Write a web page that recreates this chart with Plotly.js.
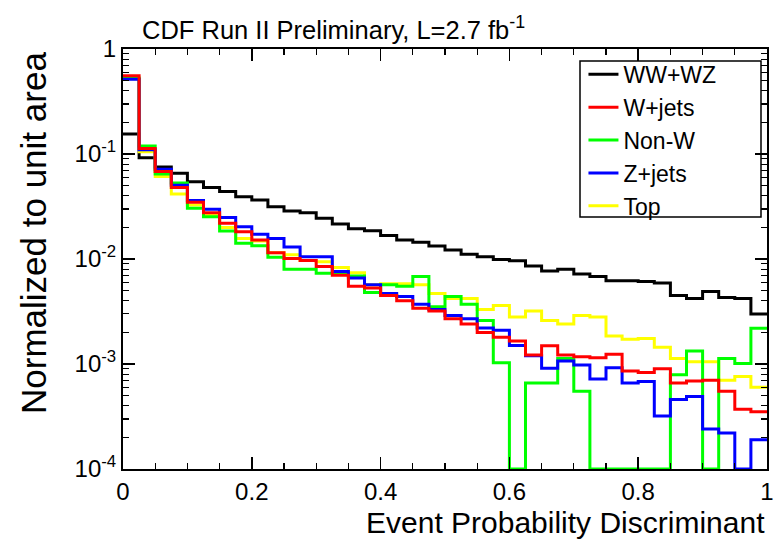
<!DOCTYPE html>
<html>
<head>
<meta charset="utf-8">
<script src="https://cdn.plot.ly/plotly-3.0.1.min.js"></script>
<style>html,body{margin:0;padding:0;background:#fff;}#chart{width:784px;height:546px;}</style>
</head>
<body>
<div id="chart"></div>
<script>
// 40 bins of the event probability discriminant, 0..1
const nBins = 40;
const xMin = 0, xMax = 1;

const seriesNames = ["WW+WZ", "W+jets", "Non-W", "Z+jets", "Top"];

const wwwz = [0.155, 0.092, 0.075, 0.0655, 0.0545, 0.048, 0.044, 0.0392, 0.0365, 0.0315,
              0.0286, 0.0275, 0.0244, 0.0216, 0.0194, 0.0186, 0.0167, 0.0152, 0.0144, 0.0133,
              0.0122, 0.0111, 0.0105, 0.0099, 0.0096, 0.0086, 0.0077, 0.0080, 0.0072, 0.0068,
              0.0062, 0.0062, 0.0061, 0.0059, 0.0045, 0.0042, 0.0049, 0.0043, 0.0042, 0.0030];

const wjets = [0.557, 0.113, 0.068, 0.048, 0.0347, 0.0276, 0.0219, 0.0182, 0.0152, 0.0115,
               0.0101, 0.0097, 0.0085, 0.0070, 0.0055, 0.0053, 0.0045, 0.0040, 0.0034, 0.0032,
               0.0027, 0.0024, 0.0020, 0.0018, 0.00166, 0.00122, 0.00149, 0.00122, 0.00117, 0.00115,
               0.00124, 0.00086, 0.00083, 0.00090, 0.00066, 0.00069, 0.00070, 0.00055, 0.00037, 0.00035];

const nonw = [0.53, 0.119, 0.0645, 0.053, 0.0304, 0.0253, 0.0185, 0.0141, 0.0134, 0.0104,
              0.0080, 0.0080, 0.0073, 0.0073, 0.0069, 0.0048, 0.0057, 0.0055, 0.0068, 0.0035,
              0.0044, 0.0037, 0.0026, 0.00103, 0, 0.00066, 0.00066, 0.00113, 0.00055, 0,
              0, 0, 0, 0, 0.00079, 0.00133, 0, 0.00113, 0.00101, 0.00219];

const zjets = [0.514, 0.110, 0.0715, 0.0503, 0.036, 0.0297, 0.0249, 0.0203, 0.0172, 0.0157,
               0.0130, 0.0105, 0.0105, 0.0076, 0.0066, 0.0057, 0.0047, 0.0044, 0.0037, 0.0033,
               0.0029, 0.0027, 0.0022, 0.0021, 0.0015, 0.0012, 0.00091, 0.00107, 0.00098, 0.00072,
               0.00092, 0.00066, 0.00068, 0.00032, 0.00046, 0.00049, 0.00024, 0.00022, 0, 0.00019];

const topq = [0.52, 0.105, 0.061, 0.0416, 0.0327, 0.0265, 0.0199, 0.0157, 0.0148, 0.0115,
              0.0110, 0.0097, 0.0094, 0.0083, 0.0074, 0.0057, 0.0058, 0.0058, 0.0057, 0.0047,
              0.0042, 0.0042, 0.0033, 0.0036, 0.0028, 0.0032, 0.0026, 0.0024, 0.0029, 0.0028,
              0.00185, 0.00172, 0.00175, 0.00144, 0.00113, 0.00105, 0.00105, 0.00070, 0.00076, 0.00060];

const xTickVals = [0, 0.2, 0.4, 0.6, 0.8, 1];
const xTickText = ["0", "0.2", "0.4", "0.6", "0.8", "1"];
const yTickVals = [1e-4, 1e-3, 1e-2, 1e-1, 1];
const yTickText = ["10<sup>-4</sup>", "10<sup>-3</sup>", "10<sup>-2</sup>", "10<sup>-1</sup>", "1"];

const yFloor = 1e-4;
const edges = Array.from({length: nBins + 1}, (_, i) => xMin + (xMax - xMin) * i / nBins);

function stepTrace(name, vals, color, rank) {
  const y = vals.map(v => (v > yFloor ? v : yFloor));
  y.push(y[y.length - 1]);
  return {
    type: "scatter", mode: "lines", name: name,
    x: edges, y: y,
    line: {shape: "hv", color: color, width: 3},
    legendrank: rank,
    hoverinfo: "skip"
  };
}

const data = [
  stepTrace(seriesNames[0], wwwz, "#000000", 1),
  stepTrace(seriesNames[4], topq, "#ffff00", 5),
  stepTrace(seriesNames[2], nonw, "#00ff00", 3),
  stepTrace(seriesNames[3], zjets, "#0000ff", 4),
  stepTrace(seriesNames[1], wjets, "#ff0000", 2)
];

const FONT = "Liberation Sans, Arial, Helvetica, sans-serif";

const layout = {
  width: 784, height: 546,
  margin: {l: 123, r: 17, t: 49, b: 77},
  paper_bgcolor: "#ffffff", plot_bgcolor: "#ffffff",
  font: {family: FONT, color: "#000000", size: 22},
  showlegend: true,
  legend: {
    x: 0.715, xanchor: "left", y: 0.991, yanchor: "top",
    bgcolor: "rgba(0,0,0,0)", borderwidth: 0,
    font: {family: FONT, size: 23, color: "#000"},
    itemwidth: 30, tracegroupgap: 0
  },
  title: {
    text: "CDF Run II Preliminary, L=2.7 fb<sup>-1</sup>",
    x: 142 / 784, xanchor: "left", xref: "container",
    y: 1 - 30 / 546, yanchor: "middle", yref: "container",
    font: {family: FONT, size: 25.5, color: "#000"}
  },
  xaxis: {
    range: [xMin, xMax], showgrid: false, zeroline: false,
    showline: true, linecolor: "#000", linewidth: 2, mirror: "allticks",
    ticks: "inside", ticklen: 12, tickwidth: 1.5, tickcolor: "#000",
    tickvals: xTickVals, ticktext: xTickText,
    tickfont: {family: FONT, size: 24},
    minor: {dtick: 0.05, ticks: "inside", ticklen: 6, tickwidth: 1.2, tickcolor: "#000", showgrid: false}
  },
  yaxis: {
    type: "log", range: [-4, 0], showgrid: false, zeroline: false,
    showline: true, linecolor: "#000", linewidth: 2, mirror: "allticks",
    ticks: "inside", ticklen: 12, tickwidth: 1.5, tickcolor: "#000",
    tickvals: yTickVals, ticktext: yTickText,
    tickfont: {family: FONT, size: 24},
    minor: {dtick: "D1", ticks: "inside", ticklen: 6, tickwidth: 1.2, tickcolor: "#000", showgrid: false}
  },
  shapes: [{
    type: "rect", xref: "paper", yref: "paper",
    x0: (580 - 123) / 644, x1: (761 - 123) / 644,
    y0: (469 - 217) / 420, y1: (469 - 61) / 420,
    line: {color: "#000", width: 1.5}, fillcolor: "rgba(0,0,0,0)"
  }],
  annotations: [
    {text: "Event Probability Discriminant", xref: "paper", yref: "paper",
     x: 1, xanchor: "right", y: -(504 - 469) / 420, yanchor: "top", showarrow: false,
     font: {family: FONT, size: 30, color: "#000"}},
    {text: "Normalized to unit area", xref: "paper", yref: "paper",
     x: (33 - 123) / 644, xanchor: "center", y: (469 - 50) / 420, yanchor: "top", textangle: -90, showarrow: false,
     font: {family: FONT, size: 35, color: "#000"}}
  ]
};

Plotly.newPlot("chart", data, layout, {displayModeBar: false, staticPlot: true});
</script>
</body>
</html>
